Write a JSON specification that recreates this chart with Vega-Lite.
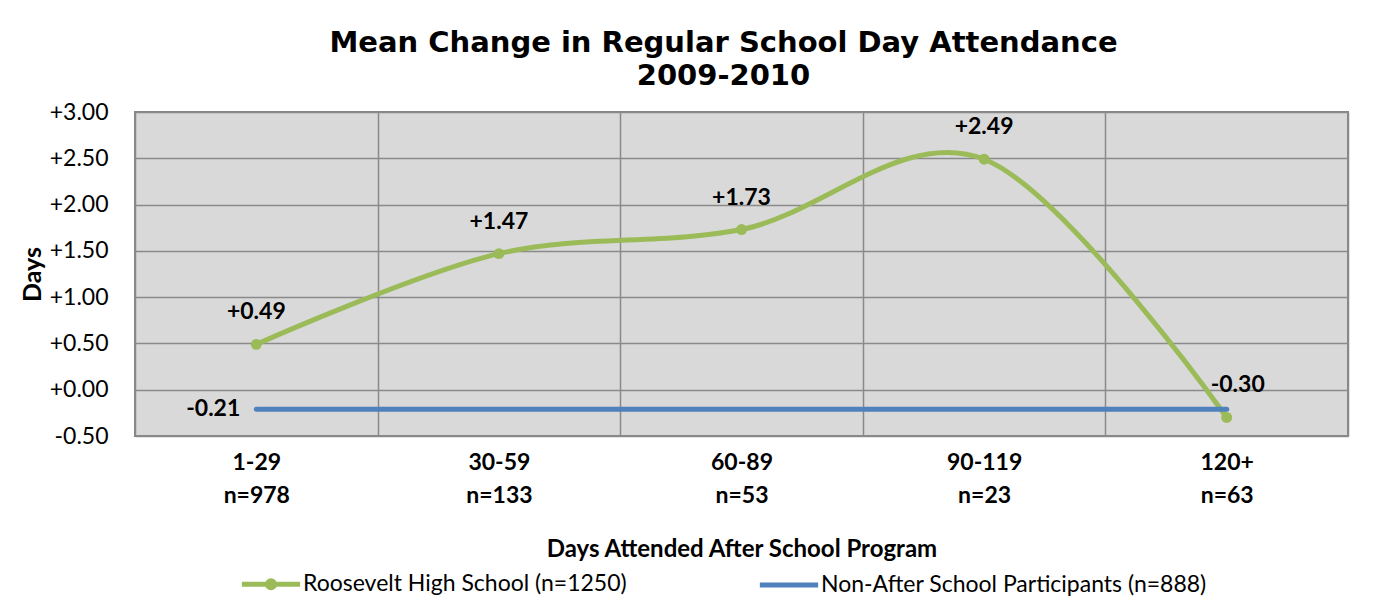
{
  "$schema": "https://vega.github.io/schema/vega-lite/v6.json",
  "width": 1213,
  "height": 324,
  "autosize": {"type": "none"},
  "padding": {"left": 135, "top": 112, "right": 31, "bottom": 165},
  "background": "white",
  "title": {
    "text": ["Mean Change in Regular School Day Attendance", "2009-2010"],
    "font": "DejaVu Sans",
    "fontSize": 29,
    "fontWeight": "bold",
    "lineHeight": 33,
    "color": "black",
    "anchor": "middle",
    "dx": -18,
    "offset": 10
  },
  "config": {
    "locale": {"number": {"decimal": ".", "thousands": ",", "grouping": [3], "currency": ["$", ""], "minus": "-"}},
    "view": {"fill": "#d9d9d9", "stroke": "#868686", "strokeWidth": 2},
    "axis": {"labelFont": "Lato", "titleFont": "Lato", "labelColor": "black", "titleColor": "black", "gridColor": "#8a8a8a", "gridWidth": 1.5, "domain": false, "ticks": false, "tickSize": 0}
  },
  "data": {
    "values": [
      {"cat": "1-29|n=978", "series": "Roosevelt High School (n=1250)", "value": 0.49},
      {"cat": "30-59|n=133", "series": "Roosevelt High School (n=1250)", "value": 1.47},
      {"cat": "60-89|n=53", "series": "Roosevelt High School (n=1250)", "value": 1.73},
      {"cat": "90-119|n=23", "series": "Roosevelt High School (n=1250)", "value": 2.49},
      {"cat": "120+|n=63", "series": "Roosevelt High School (n=1250)", "value": -0.30},
      {"cat": "1-29|n=978", "series": "Non-After School Participants (n=888)", "value": -0.21},
      {"cat": "30-59|n=133", "series": "Non-After School Participants (n=888)", "value": -0.21},
      {"cat": "60-89|n=53", "series": "Non-After School Participants (n=888)", "value": -0.21},
      {"cat": "90-119|n=23", "series": "Non-After School Participants (n=888)", "value": -0.21},
      {"cat": "120+|n=63", "series": "Non-After School Participants (n=888)", "value": -0.21}
    ]
  },
  "encoding": {
    "x": {
      "field": "cat",
      "type": "nominal",
      "sort": ["1-29|n=978", "30-59|n=133", "60-89|n=53", "90-119|n=23", "120+|n=63"],
      "scale": {"type": "band", "paddingInner": 0, "paddingOuter": 0},
      "axis": {
        "title": "Days Attended After School Program",
        "titleFontSize": 24,
        "titleFontWeight": "bold",
        "titlePadding": 30,
        "labelExpr": "split(datum.label, '|')",
        "labelFontSize": 23,
        "labelFontWeight": "bold",
        "labelLineHeight": 33,
        "labelBaseline": "top",
        "labelPadding": 15,
        "labelAngle": 0,
        "grid": true,
        "tickBand": "extent"
      }
    },
    "y": {
      "field": "value",
      "type": "quantitative",
      "scale": {"domain": [-0.5, 3], "nice": false, "zero": false},
      "axis": {
        "title": "Days",
        "titleFontSize": 25,
        "titleFontWeight": "bold",
        "titlePadding": 4,
        "values": [-0.5, 0, 0.5, 1, 1.5, 2, 2.5, 3],
        "format": "+.2f",
        "labelFontSize": 23,
        "labelPadding": 27,
        "grid": true
      }
    }
  },
  "layer": [
    {
      "mark": {"type": "line", "interpolate": "cardinal", "tension": 0, "strokeWidth": 5, "strokeCap": "round"},
      "encoding": {
        "color": {
          "field": "series",
          "type": "nominal",
          "sort": ["Roosevelt High School (n=1250)", "Non-After School Participants (n=888)"],
          "scale": {"domain": ["Roosevelt High School (n=1250)", "Non-After School Participants (n=888)"], "range": ["#9bbb59", "#4f81bd"]},
          "legend": {
            "title": null,
            "orient": "none",
            "direction": "horizontal",
            "legendX": 104,
            "legendY": 440,
            "labelFont": "Lato",
            "labelFontSize": 23,
            "labelColor": "black",
            "labelLimit": 0,
            "labelOffset": 0,
            "symbolSize": 3400,
            "symbolStrokeWidth": 5,
            "columnPadding": 122,
            "encode": {
              "symbols": {
                "update": {
                  "shape": {"signal": "datum.value == 'Roosevelt High School (n=1250)' ? 'M-1,0H1M0.12,0A0.12,0.12,0,1,1,-0.12,0A0.12,0.12,0,1,1,0.12,0' : 'M-1,0H1'"},
                  "fill": {"signal": "datum.value == 'Roosevelt High School (n=1250)' ? '#9bbb59' : 'transparent'"},
                  "stroke": {"signal": "datum.value == 'Roosevelt High School (n=1250)' ? '#9bbb59' : '#4f81bd'"},
                  "strokeWidth": {"value": 5},
                  "opacity": {"value": 1}
                }
              }
            }
          }
        }
      }
    },
    {
      "transform": [{"filter": "datum.series == 'Roosevelt High School (n=1250)'"}],
      "mark": {"type": "point", "filled": true, "size": 120, "opacity": 1, "color": "#9bbb59"}
    },
    {
      "transform": [{"filter": "datum.series == 'Roosevelt High School (n=1250)' && datum.cat != '120+|n=63'"}],
      "mark": {"type": "text", "font": "Lato", "fontSize": 23, "fontWeight": "bold", "color": "black", "dy": -25, "baseline": "alphabetic"},
      "encoding": {"text": {"field": "value", "type": "quantitative", "format": "+.2f"}}
    },
    {
      "transform": [{"filter": "datum.series == 'Roosevelt High School (n=1250)' && datum.cat == '120+|n=63'"}],
      "mark": {"type": "text", "font": "Lato", "fontSize": 23, "fontWeight": "bold", "color": "black", "dy": -25, "dx": 11, "baseline": "alphabetic"},
      "encoding": {"text": {"field": "value", "type": "quantitative", "format": "+.2f"}}
    },
    {
      "transform": [{"filter": "datum.series == 'Non-After School Participants (n=888)' && datum.cat == '1-29|n=978'"}],
      "mark": {"type": "text", "font": "Lato", "fontSize": 23, "fontWeight": "bold", "color": "black", "dx": -16, "align": "right", "baseline": "middle"},
      "encoding": {"text": {"field": "value", "type": "quantitative", "format": "+.2f"}}
    }
  ]
}
